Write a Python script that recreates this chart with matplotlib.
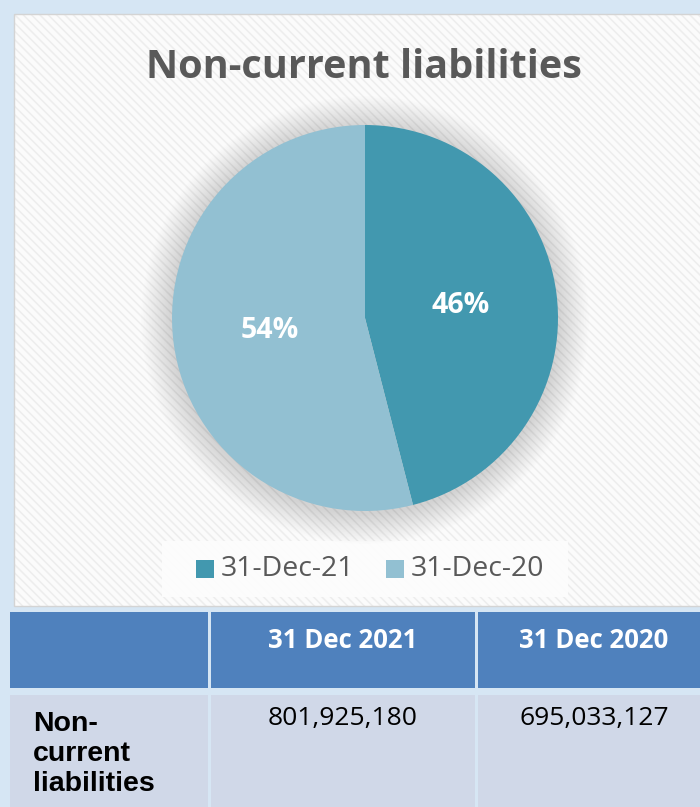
import matplotlib.pyplot as plt
from matplotlib.patches import Rectangle, Circle

# chart data
labels = ["31-Dec-21", "31-Dec-20"]
shares = [46, 54]
colors = ["#4298af", "#92c0d2"]

# table data
col_headers = ["", "31 Dec 2021", "31 Dec 2020"]
row_label = "Non-\ncurrent\nliabilities"
row_values = ["801,925,180", "695,033,127"]

W, H = 700, 807
fig = plt.figure(figsize=(W / 100, H / 100), dpi=100, facecolor="#d6e6f4")

# background axes in pixel coordinates (y grows downwards)
bg = fig.add_axes([0, 0, 1, 1])
bg.set_xlim(0, W)
bg.set_ylim(H, 0)
bg.axis("off")

# chart panel with light diagonal stripes
bg.add_patch(Rectangle((14, 14), 700, 592, facecolor="#fbfbfb", edgecolor="none"))
plt.rcParams["hatch.linewidth"] = 1.1
bg.add_patch(Rectangle((14, 14), 700, 592, facecolor="none", edgecolor="#ededed",
                       linewidth=0, hatch="\\\\\\\\"))
bg.add_patch(Rectangle((14, 14), 700, 592, facecolor="none", edgecolor="#d4d4d4",
                       linewidth=1))

bg.text(364, 67, "Non-current liabilities", ha="center", va="center",
        fontsize=28.5, fontweight="bold", color="#595959", family="Open Sans")

# legend
bg.add_patch(Rectangle((162, 541), 406, 56, facecolor="#fdfdfd", edgecolor="none", alpha=0.9))
leg_x = [196, 386]
for x, lab, c in zip(leg_x, labels, colors):
    bg.add_patch(Rectangle((x, 560), 18, 18, facecolor=c, edgecolor="none"))
    bg.text(x + 25, 569, lab, ha="left", va="center", fontsize=20.5,
            color="#595959", family="Open Sans")

# table
col_x = [10, 211, 478, 713]
header_top, header_bot = 612, 688
body_top, body_bot = 695, 820
for i in range(3):
    x0, x1 = col_x[i], col_x[i + 1] - 3
    bg.add_patch(Rectangle((x0, header_top), x1 - x0, header_bot - header_top,
                           facecolor="#4f81bd", edgecolor="none"))
    bg.add_patch(Rectangle((x0, body_top), x1 - x0, body_bot - body_top,
                           facecolor="#d0d8e8", edgecolor="none"))
    cx = (x0 + x1) / 2
    if col_headers[i]:
        bg.text(cx, 641, col_headers[i], ha="center", va="center", fontsize=18.5,
                fontweight="bold", color="white", family="Open Sans")
    if i > 0:
        bg.text(cx, 719, row_values[i - 1], ha="center", va="center", fontsize=19,
                color="black", family="Open Sans")
bg.text(33, 754, row_label, ha="left", va="center", fontsize=20.5, fontweight="bold",
        color="black", family="Liberation Sans", linespacing=1.22)

# pie
cx, cy, r = 365, 318, 193
half = 235
ax = fig.add_axes([(cx - half) / W, (H - cy - half) / H, 2 * half / W, 2 * half / H])
lim = half / r
ax.set_aspect("equal")
ax.axis("off")

# soft shadow around the pie
for k in range(20):
    ax.add_patch(Circle((0, -0.01), 1.0 + 0.008 * (20 - k), facecolor="black",
                        edgecolor="none", alpha=0.006, zorder=0))

wedges, texts, autotexts = ax.pie(
    shares,
    colors=colors,
    startangle=90,
    counterclock=False,
    autopct="%.0f%%",
    pctdistance=0.5,
    wedgeprops={"linewidth": 0},
    textprops={"color": "white", "fontsize": 20.5, "fontweight": "bold", "family": "Open Sans"},
    radius=1.0,
)
ax.set_xlim(-lim, lim)
ax.set_ylim(-lim, lim)

fig.savefig("out.png", dpi=100, facecolor=fig.get_facecolor())
